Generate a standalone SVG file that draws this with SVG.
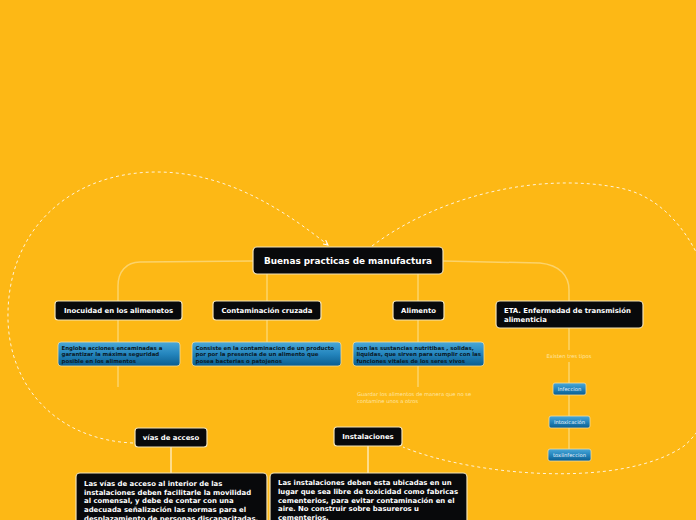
<svg xmlns="http://www.w3.org/2000/svg" width="696" height="520" viewBox="0 0 696 520">
<defs>
<linearGradient id="blue" x1="0" y1="0" x2="0" y2="1">
<stop offset="0" stop-color="#4aa8d8"/>
<stop offset="0.5" stop-color="#2485bd"/>
<stop offset="1" stop-color="#0a5d8f"/>
</linearGradient>
<marker id="arr" viewBox="0 0 6 6" refX="5" refY="3" markerWidth="6" markerHeight="6" orient="auto" markerUnits="userSpaceOnUse">
<path d="M0,0.5 L5,3 L0,5.5" fill="none" stroke="#ffffff" stroke-width="1"/>
</marker>
<style>
.dark{fill:#08090b;stroke:#f3e3b8;stroke-width:1.2}
.bl{fill:url(#blue);stroke:#f6dc98;stroke-width:0.8}
.t{font-family:"DejaVu Sans",Verdana,sans-serif;font-weight:bold;fill:#ffffff}
.bt{font-family:"DejaVu Sans",Verdana,sans-serif;font-weight:bold;fill:#0b1a28;font-size:5.45px}
.st{font-family:"DejaVu Sans",Verdana,sans-serif;fill:#e9f3fa;font-size:5.2px}
.lt{font-family:"DejaVu Sans",Verdana,sans-serif;fill:#fde6a8;font-size:5.2px}
.ln{fill:none;stroke:#fcd36a;stroke-width:1.5}
.lw{fill:none;stroke:#fff1cc;stroke-width:1.3}
.ds{fill:none;stroke:#fff4dc;stroke-width:1;stroke-dasharray:3 3}
</style>
</defs>
<rect width="696" height="520" fill="#fdb815"/>
<g id="connectors">
<path class="ln" d="M253,261 L140,262 C126,262 118,272 118,286 L118,301"/>
<path class="ln" d="M118,320 L118,342 M118,366 L118,387"/>
<path class="ln" d="M267,274 L267,301 M267,320 L267,342"/>
<path class="ln" d="M418,274 L418,301 M418,320 L418,342 M418,366 L418,387"/>
<path class="ln" d="M443,261 L540,263 C560,265 569,276 569,290 L569,301"/>
<path class="ln" d="M569,328 L569,350 M569,362 L569,383 M569,395 L569,416 M569,428 L569,449"/>
<path class="lw" d="M171,447 L171,473 M368,446 L368,473"/>
<path class="ds" marker-end="url(#arr)" d="M133,443 C60,440 10,390 8,320 C6,230 70,172 157,172 C230,172 290,215 328,245"/>
<path class="ds" d="M372,246 C440,195 540,172 620,188 C720,208 750,390 684,446 C620,490 470,475 403,447"/>
</g>
<g id="n-central">
<rect class="dark" x="253" y="247" width="190" height="27" rx="4"/>
<text class="t" x="348" y="264.2" font-size="8.9" text-anchor="middle">Buenas practicas de manufactura</text>
</g>
<g id="n-inocuidad">
<rect class="dark" x="55" y="301" width="127" height="19" rx="3"/>
<text class="t" x="118.5" y="313.3" font-size="6.9" text-anchor="middle">Inocuidad en los alimenetos</text>
</g>
<g id="n-contaminacion">
<rect class="dark" x="213" y="301" width="108" height="19" rx="3"/>
<text class="t" x="267" y="313.3" font-size="6.9" text-anchor="middle">Contaminación cruzada</text>
</g>
<g id="n-alimento">
<rect class="dark" x="393" y="301" width="51" height="19" rx="3"/>
<text class="t" x="418.5" y="313.3" font-size="6.9" text-anchor="middle">Alimento</text>
</g>
<g id="n-eta">
<rect class="dark" x="496" y="301" width="147" height="27" rx="4"/>
<text class="t" x="504" y="313" font-size="6.9">ETA. Enfermedad de transmisión</text>
<text class="t" x="504" y="322" font-size="6.9">alimenticia</text>
</g>
<g id="n-engloba">
<rect class="bl" x="58" y="342" width="122" height="24" rx="3"/>
<text class="bt" x="61.5" y="349.5">Engloba acciones encaminadas a</text>
<text class="bt" x="61.5" y="356">garantizar la máxima seguridad</text>
<text class="bt" x="61.5" y="363">posible en los alimentos</text>
</g>
<g id="n-consiste">
<rect class="bl" x="192" y="342" width="149" height="24" rx="3"/>
<text class="bt" x="195.5" y="349.5">Consiste en la contaminacion de un producto</text>
<text class="bt" x="195.5" y="356">por por la presencia de un alimento que</text>
<text class="bt" x="195.5" y="363">posea bacterias o patojenos</text>
</g>
<g id="n-sonlas">
<rect class="bl" x="353" y="342" width="131" height="24" rx="3"/>
<text class="bt" x="356.5" y="349.5">son las sustancias nutritibas , solidas,</text>
<text class="bt" x="356.5" y="356">liquidas, que sirven para cumplir con las</text>
<text class="bt" x="356.5" y="363">funciones vitales de los seres vivos</text>
</g>
<g id="n-guardar">
<text class="lt" x="357" y="396">Guardar los alimentos de manera que no se</text>
<text class="lt" x="357" y="402.5">contamine unos a otros</text>
</g>
<g id="n-existen">
<text class="lt" x="569" y="358" text-anchor="middle">Existen tres tipos</text>
</g>
<g id="n-infeccion">
<rect class="bl" x="553" y="383" width="33" height="12" rx="2"/>
<text class="st" x="569.5" y="391" text-anchor="middle">Infeccion</text>
</g>
<g id="n-intoxicacion">
<rect class="bl" x="549" y="416" width="41" height="12" rx="2"/>
<text class="st" x="569.5" y="424" text-anchor="middle">Intoxicación</text>
</g>
<g id="n-toxiinfeccion">
<rect class="bl" x="548" y="449" width="43" height="12" rx="2"/>
<text class="st" x="569.5" y="457" text-anchor="middle">toxiinfeccion</text>
</g>
<g id="n-vias">
<rect class="dark" x="135" y="428" width="72" height="19" rx="3"/>
<text class="t" x="171" y="440.3" font-size="6.9" text-anchor="middle">vías de acceso</text>
</g>
<g id="n-instalaciones">
<rect class="dark" x="334" y="427" width="68" height="19" rx="3"/>
<text class="t" x="368" y="439.3" font-size="6.9" text-anchor="middle">Instalaciones</text>
</g>
<g id="n-vias-text">
<rect class="dark" x="76" y="473" width="191" height="60" rx="4"/>
<text class="t" font-size="6.9">
<tspan x="84" y="485.5">Las vías de acceso al interior de las</tspan>
<tspan x="84" y="494.5">instalaciones deben facilitarle la movilidad</tspan>
<tspan x="84" y="503.3">al comensal, y debe de contar con una</tspan>
<tspan x="84" y="512">adecuada señalización las normas para el</tspan>
<tspan x="84" y="520.8">desplazamiento de personas discapacitadas.</tspan>
</text>
</g>
<g id="n-instalaciones-text">
<rect class="dark" x="270" y="473" width="197" height="60" rx="4"/>
<text class="t" font-size="6.9">
<tspan x="278" y="485.3">Las instalaciones deben esta ubicadas en un</tspan>
<tspan x="278" y="494">lugar que sea libre de toxicidad como fabricas</tspan>
<tspan x="278" y="502.6">cementerios, para evitar contaminación en el</tspan>
<tspan x="278" y="511.2">aire. No construir sobre basureros u</tspan>
<tspan x="278" y="519.5">cementerios.</tspan>
</text>
</g>
</svg>
